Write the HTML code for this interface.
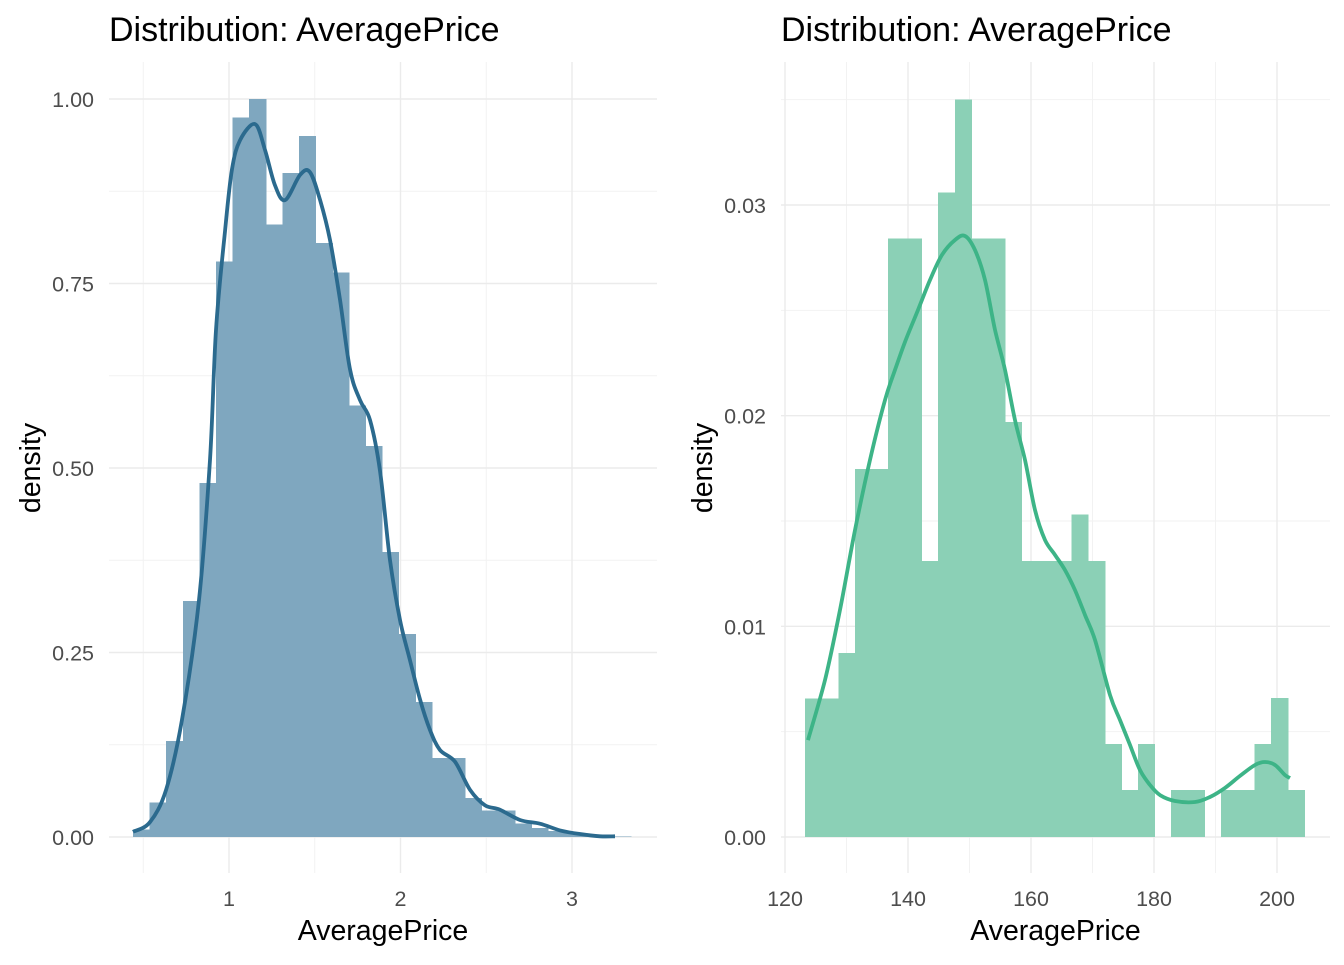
<!DOCTYPE html>
<html><head><meta charset="utf-8"><style>
body{margin:0;background:#fff;}
svg text{font-family:"Liberation Sans",Arial,sans-serif;}
</style></head><body>
<svg id="chart" width="1344" height="960" viewBox="0 0 1344 960" xmlns="http://www.w3.org/2000/svg"></svg>
<script>
// Left panel data
const leftBinStart = 0.44;
const leftBinWidth = 0.0968;
const leftHist = [0.01,0.047,0.13,0.32,0.48,0.78,0.975,1.0,0.83,0.90,0.95,0.805,0.765,0.585,0.53,0.386,0.275,0.183,0.107,0.107,0.053,0.036,0.036,0.018,0.012,0.008,0.005,0.003,0.002,0.001];
const leftCurveX = [0.44,0.539,0.633,0.726,0.825,0.889,0.924,0.977,1.017,1.064,1.152,1.210,1.268,1.327,1.414,1.472,1.531,1.589,1.647,1.706,1.764,1.822,1.880,1.939,1.997,2.055,2.114,2.172,2.230,2.318,2.405,2.493,2.580,2.697,2.813,2.930,3.047,3.163,3.251];
const leftCurveY = [0.007,0.020,0.064,0.159,0.321,0.511,0.687,0.822,0.904,0.944,0.966,0.931,0.883,0.863,0.897,0.901,0.863,0.809,0.728,0.633,0.592,0.565,0.497,0.375,0.294,0.240,0.186,0.145,0.118,0.102,0.064,0.043,0.037,0.023,0.018,0.009,0.004,0.001,0.001];
const leftXTicks = [1,2,3];
const leftYTicks = [0,0.25,0.5,0.75,1.0];
const leftYLabels = ["0.00","0.25","0.50","0.75","1.00"];
// Right panel data
const rightBinStart = 123.25;
const rightBinWidth = 2.707;
const rightHist = [0.00657,0.00657,0.00873,0.01747,0.01747,0.0284,0.0284,0.0131,0.0306,0.035,0.0284,0.0284,0.0197,0.0131,0.0131,0.0131,0.0153,0.0131,0.00441,0.00223,0.00441,0,0.00223,0.00223,0,0.00223,0.00223,0.00441,0.0066,0.00223];
const rightCurveX = [123.74,126.50,128.94,131.38,133.82,136.26,137.89,139.51,141.63,143.58,145.53,147.64,149.27,150.89,152.52,154.15,155.77,157.40,159.02,160.65,162.28,163.90,165.53,167.15,168.78,170.41,172.85,174.47,176.10,177.72,179.35,180.98,183.41,186.67,189.11,191.54,193.98,196.42,198.05,199.67,201.30,202.11];
const rightCurveY = [.00460,.00745,.01078,.01457,.01790,.02074,.02217,.02350,.02502,.02644,.02763,.02834,.02853,.02786,.02644,.02407,.02217,.01979,.01790,.01552,.01410,.01339,.01267,.01172,.01054,.00935,.00674,.00555,.00437,.00318,.00247,.00199,.00171,.00166,.00190,.00233,.00290,.00342,.00356,.00342,.00294,.00280];
const rightXTicks = [120,140,160,180,200];
const rightYTicks = [0,0.01,0.02,0.03];
const rightYLabels = ["0.00","0.01","0.02","0.03"];

const NS="http://www.w3.org/2000/svg";
const svg=document.getElementById('chart');
function mk(tag,attrs,parent){const e=document.createElementNS(NS,tag);for(const k in attrs)e.setAttribute(k,attrs[k]);(parent||svg).appendChild(e);return e;}

function smoothPath(P){
  let d='M'+P[0][0].toFixed(1)+','+P[0][1].toFixed(1);
  for(let i=0;i<P.length-1;i++){
    const p0=P[Math.max(0,i-1)],p1=P[i],p2=P[i+1],p3=P[Math.min(P.length-1,i+2)];
    const c1=[p1[0]+(p2[0]-p0[0])/6,p1[1]+(p2[1]-p0[1])/6];
    const c2=[p2[0]-(p3[0]-p1[0])/6,p2[1]-(p3[1]-p1[1])/6];
    d+=' C'+c1[0].toFixed(1)+','+c1[1].toFixed(1)+' '+c2[0].toFixed(1)+','+c2[1].toFixed(1)+' '+p2[0].toFixed(1)+','+p2[1].toFixed(1);
  }
  return d;
}

function panel(o){
  const g=mk('g',{});
  
  
  const sx=v=>o.px0+(v-o.x0)*o.kx;
  const sy=v=>o.py0-(v-o.y0)*o.ky;
  o.xMinor.forEach(v=>{const l=mk('line',{x1:sx(v),x2:sx(v),y1:62,y2:873,stroke:'#f2f2f2','stroke-width':1},g);});
  o.yMinor.forEach(v=>{const l=mk('line',{x1:o.left,x2:o.right,y1:sy(v),y2:sy(v),stroke:'#f2f2f2','stroke-width':1},g);});
  o.xTicks.forEach(v=>{const l=mk('line',{x1:sx(v),x2:sx(v),y1:62,y2:873,stroke:'#ebebeb','stroke-width':1.4},g);});
  o.yTicks.forEach(v=>{const l=mk('line',{x1:o.left,x2:o.right,y1:sy(v),y2:sy(v),stroke:'#ebebeb','stroke-width':1.4},g);});
  o.hist.forEach((h,i)=>{
    if(h<=0)return;
    const a=o.binStart+i*o.binW;
    const r=mk('rect',{x:sx(a),y:sy(h),width:sx(a+o.binW)-sx(a)+0.6,height:sy(0)-sy(h),fill:o.fill,'shape-rendering':'crispEdges'},g);
    
    
  });
  const P=o.cx.map((x,i)=>[sx(x),sy(o.cy[i])]);
  const pl=mk('path',{d:smoothPath(P),fill:'none',stroke:o.line,'stroke-width':3.8,'stroke-linejoin':'round','stroke-linecap':'butt'},g);
  
  
  o.xTicks.forEach(v=>{const t=mk('text',{x:sx(v),y:906,'text-anchor':'middle','font-size':21.5,fill:'#4d4d4d'},g);t.textContent=String(v);});
  o.yTicks.forEach((v,i)=>{const t=mk('text',{x:o.left-15,y:sy(v)+8,'text-anchor':'end','font-size':21.5,fill:'#4d4d4d'},g);t.textContent=o.yLabels[i];});
  const xt=mk('text',{x:(o.left+o.right)/2,y:940,'text-anchor':'middle','font-size':28.5,fill:'#000'},g);xt.textContent='AveragePrice';
  
  const yt=mk('text',{x:0,y:0,'text-anchor':'middle','font-size':28.5,fill:'#000',transform:`translate(${o.yTitleX},468) rotate(-90)`},g);yt.textContent='density';
  
  const ti=mk('text',{x:o.left,y:41,'font-size':34,fill:'#000'},g);ti.textContent='Distribution: AveragePrice';
  
}

panel({name:'left-panel',left:109,right:657,px0:229,x0:1,kx:171.5,py0:837,y0:0,ky:738,
  xTicks:leftXTicks,xMinor:[0.5,1.5,2.5],yTicks:leftYTicks,yMinor:[0.125,0.375,0.625,0.875],yLabels:leftYLabels,
  hist:leftHist,binStart:leftBinStart,binW:leftBinWidth,cx:leftCurveX,cy:leftCurveY,fill:'#7fa7bf',line:'#2b6a8e',yTitleX:40});
panel({name:'right-panel',left:781,right:1330,px0:785,x0:120,kx:6.15,py0:837,y0:0,ky:21067,
  xTicks:rightXTicks,xMinor:[130,150,170,190],yTicks:rightYTicks,yMinor:[0.005,0.015,0.025,0.035],yLabels:rightYLabels,
  hist:rightHist,binStart:rightBinStart,binW:rightBinWidth,cx:rightCurveX,cy:rightCurveY,fill:'#8bd0b6',line:'#3db487',yTitleX:712});
</script>
</body></html>
